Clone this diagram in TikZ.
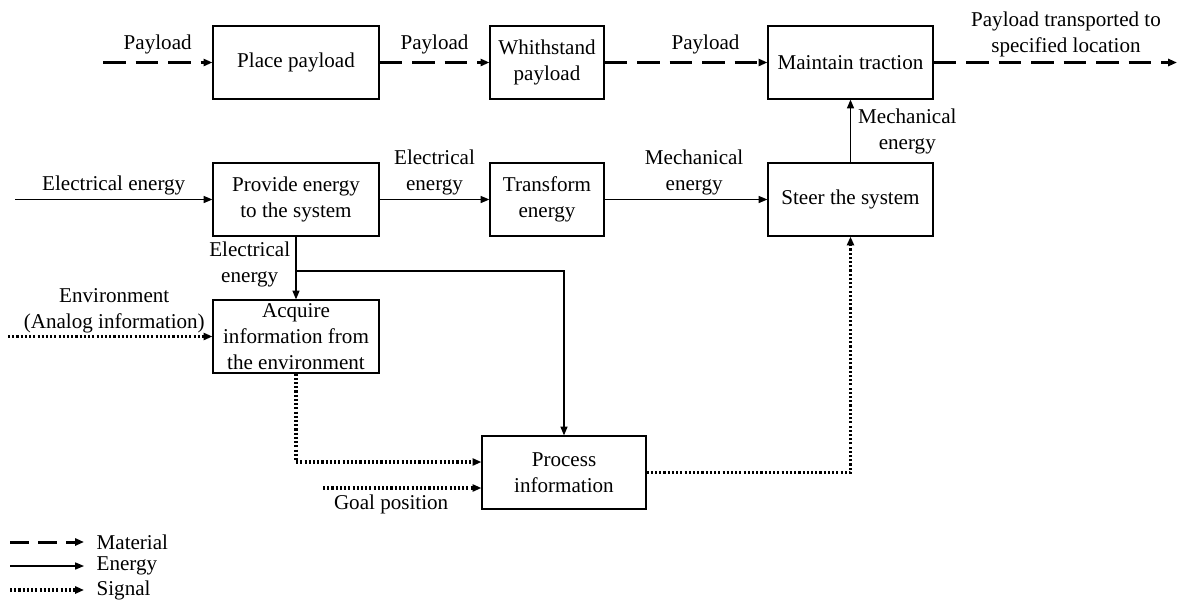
\documentclass[tikz,border=0pt]{standalone}
\usepackage{fontspec}
\setmainfont{Liberation Serif}
\usetikzlibrary{arrows.meta}

\begin{document}
\begin{tikzpicture}[x=0.02cm,y=-0.02cm,
  every node/.style={font=\fontsize{12pt}{14.8pt}\selectfont},
  fnbox/.style={draw,line width=0.7pt,align=center,minimum height=1.46cm,inner sep=1pt},
  lbl/.style={align=center,inner sep=1pt},
  tip/.style={-{Triangle[length=5pt,width=4pt]}},
  matl/.style={tip,line width=1.7pt,dash pattern=on 13pt off 5.5pt},
  enrg/.style={tip,line width=0.7pt},
  sgnl/.style={tip,line width=1.8pt,dash pattern=on 1.2pt off 1.2pt}]
  \useasboundingbox (0,0) rectangle (1177,609);

  \node (pl) [fnbox,minimum width=3.32cm] at (296,62.5) {Place payload};
  \node (wp) [fnbox,minimum width=2.28cm] at (547,62.5) {Whithstand\\payload};
  \node (mt) [fnbox,minimum width=3.30cm] at (850.5,62.5) {Maintain traction};
  \node (pe) [fnbox,minimum width=3.32cm] at (296,199.5) {Provide energy\\to the system};
  \node (te) [fnbox,minimum width=2.28cm] at (547,199.5) {Transform\\energy};
  \node (st) [fnbox,minimum width=3.30cm] at (850.5,199.5) {Steer the system};
  \node (ai) [fnbox,minimum width=3.32cm] at (296,336.5) {Acquire\\information from\\the environment};
  \node (pi) [fnbox,minimum width=3.28cm] at (564,472.5) {Process\\information};

  \path (103,62.5) coordinate (plin);
  \path (1177,62.5) coordinate (mtout);
  \path (15,199.5) coordinate (pein);
  \path (8,336.5) coordinate (aiin);
  \path (296,271) coordinate (peb);
  \path (323,488) coordinate (goal);

  \draw[matl] (plin) -- (pl) node[lbl,midway,above=3pt] {Payload};
  \draw[matl] (pl) -- (wp) node[lbl,midway,above=3pt] {Payload};
  \draw[matl] (wp) -- (mt) node[lbl,pos=.62,above=3pt] {Payload};
  \draw[matl] (mt) -- (mtout);
  \node (ptl) [lbl] at (1066,34) {Payload transported to\\specified location};

  \draw[enrg] (pein) -- (pe) node[lbl,midway,above=1pt] {Electrical energy};
  \draw[enrg] (pe) -- (te) node[lbl,midway,above=1pt] {Electrical\\energy};
  \draw[enrg] (te) -- (st) node[lbl,pos=.55,above=1pt] {Mechanical\\energy};
  \draw[enrg] (st) -- (mt) node[lbl,midway,right=3pt] {Mechanical\\energy};
  \draw[enrg] (pe) -- (ai) node[lbl,pos=.45,left=2pt] {Electrical\\energy};
  \draw[enrg] (peb) -| (pi);

  \draw[sgnl] (aiin) -- (ai) node[lbl,pos=.52,above=0pt] {Environment\\(Analog information)};
  \draw[sgnl] (ai) |- ([yshift=.21cm]pi.west);
  \draw[sgnl] (goal) -- (goal -| pi.west) node[lbl,pos=.43,below=2pt] {Goal position};
  \draw[sgnl] (pi) -| (st);

  \path (10,542) coordinate (lgm);
  \path (10,566) coordinate (lge);
  \path (10,590) coordinate (lgs);
  \draw[matl,dash pattern=on 11pt off 5pt] (lgm) -- ++(74,0) coordinate (lgme);
  \draw[enrg] (lge) -- ++(74,0) coordinate (lgee);
  \draw[sgnl] (lgs) -- ++(74,0) coordinate (lgse);
  \node (lgmt) [lbl,right=6pt] at (lgme) {Material};
  \node (lget) [lbl,right=6pt] at (lgee) {Energy};
  \node (lgst) [lbl,right=6pt] at (lgse) {Signal};
\end{tikzpicture}
\end{document}
